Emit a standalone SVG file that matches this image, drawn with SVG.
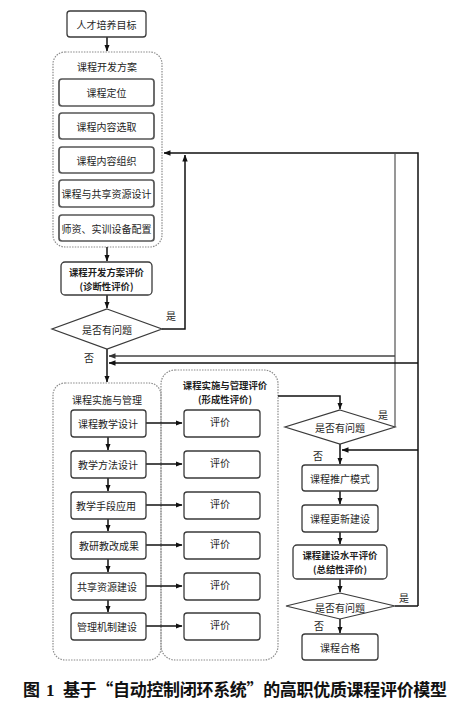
<svg xmlns="http://www.w3.org/2000/svg" width="450" height="705" viewBox="0 0 450 705">
<defs>
<marker id="ah" markerUnits="userSpaceOnUse" markerWidth="7" markerHeight="7" viewBox="0 0 7 7" refX="6.5" refY="3.5" orient="auto">
<path d="M0,0.8 L7,3.5 L0,6.2 Z" fill="#111"/>
</marker>
<marker id="ahg" markerUnits="userSpaceOnUse" markerWidth="7" markerHeight="7" viewBox="0 0 7 7" refX="6.5" refY="3.5" orient="auto">
<path d="M0,0.8 L7,3.5 L0,6.2 Z" fill="#333"/>
</marker>
</defs>
<style>
text{font-family:"Noto Sans CJK SC","Noto Sans",sans-serif;font-size:10px;fill:#1e1e1e;text-anchor:middle;dominant-baseline:central}
.b{font-weight:bold;font-size:9.4px}
.box{fill:#fff;stroke:#3a3a3a;stroke-width:1.3}
.ibox{fill:#fff;stroke:#555;stroke-width:1.7}
.cont{fill:none;stroke:#8a8a8a;stroke-width:1.2;stroke-dasharray:1.5 1.2}
.dia{fill:#fff;stroke:#3a3a3a;stroke-width:1.2}
.ln{fill:none;stroke:#111;stroke-width:1.5}
.lg{fill:none;stroke:#8c8c8c;stroke-width:1.8}
.ld{fill:none;stroke:#444;stroke-width:1.6}
.cap{font-size:17px;font-weight:bold;text-anchor:start;dominant-baseline:auto;fill:#111}
</style>
<rect width="450" height="705" fill="#fff"/>

<!-- containers -->
<g id="dev-plan">
<rect class="cont" x="53" y="52" width="109" height="195" rx="12"/>
<text x="107" y="66">课程开发方案</text>
</g>
<g id="impl-container">
<rect class="cont" x="53" y="383" width="108" height="277" rx="12"/>
<text x="107" y="399">课程实施与管理</text>
</g>
<g id="formative-container">
<rect class="cont" x="161" y="370" width="117" height="290" rx="14"/>
<text class="b" x="225" y="385">课程实施与管理评价</text>
<text class="b" x="225" y="399">(形成性评价)</text>
</g>

<!-- connectors -->
<g id="connectors">
<line class="ln" x1="107" y1="37" x2="107" y2="51" marker-end="url(#ah)"/>
<line class="ln" x1="107" y1="247" x2="107" y2="261" marker-end="url(#ah)"/>
<line class="ln" x1="107" y1="295" x2="107" y2="308" marker-end="url(#ah)"/>
<polyline class="ln" points="162,329 185,329 185,155" marker-end="url(#ah)"/>
<polyline class="ln" points="418,606 418,153 164,153" marker-end="url(#ah)"/>
<line class="lg" x1="395" y1="427" x2="395" y2="154"/>
<line class="ld" x1="395" y1="356" x2="109" y2="356" marker-end="url(#ahg)"/>
<line class="ln" x1="418" y1="363" x2="109" y2="363" marker-end="url(#ah)"/>
<line class="ln" x1="107" y1="349" x2="107" y2="382" marker-end="url(#ah)"/>
<line class="ln" x1="418" y1="450" x2="342" y2="450" marker-end="url(#ah)"/>
<line class="ln" x1="395" y1="606" x2="418" y2="606"/>
<!-- impl chain -->
<line class="ln" x1="108" y1="437" x2="108" y2="450" marker-end="url(#ah)"/>
<line class="ln" x1="108" y1="478" x2="108" y2="491" marker-end="url(#ah)"/>
<line class="ln" x1="108" y1="519" x2="108" y2="531" marker-end="url(#ah)"/>
<line class="ln" x1="108" y1="559" x2="108" y2="572" marker-end="url(#ah)"/>
<line class="ln" x1="108" y1="600" x2="108" y2="612" marker-end="url(#ah)"/>
<line class="ln" x1="146" y1="423" x2="182" y2="423" marker-end="url(#ah)"/>
<line class="ln" x1="146" y1="464" x2="182" y2="464" marker-end="url(#ah)"/>
<line class="ln" x1="146" y1="505" x2="182" y2="505" marker-end="url(#ah)"/>
<line class="ln" x1="146" y1="545" x2="182" y2="545" marker-end="url(#ah)"/>
<line class="ln" x1="146" y1="586" x2="182" y2="586" marker-end="url(#ah)"/>
<line class="ln" x1="146" y1="626" x2="182" y2="626" marker-end="url(#ah)"/>
<!-- right chain -->
<polyline class="ln" points="278,396 340,396 340,409" marker-end="url(#ah)"/>
<line class="ln" x1="340" y1="444" x2="340" y2="464" marker-end="url(#ah)"/>
<line class="ln" x1="340" y1="491" x2="340" y2="504" marker-end="url(#ah)"/>
<line class="ln" x1="340" y1="532" x2="340" y2="544" marker-end="url(#ah)"/>
<line class="ln" x1="340" y1="579" x2="340" y2="592" marker-end="url(#ah)"/>
<line class="ln" x1="340" y1="619" x2="340" y2="633" marker-end="url(#ah)"/>
<text x="171" y="315">是</text>
<text x="89" y="357">否</text>
<text x="383" y="414">是</text>
<text x="318" y="455">否</text>
<text x="404" y="597">是</text>
<text x="319" y="625">否</text>
</g>

<!-- nodes -->
<g id="goal"><rect class="box" x="67" y="11" width="79" height="26" rx="3"/><text x="106.5" y="24">人才培养目标</text></g>
<g id="n-position"><rect class="ibox" x="59" y="79" width="95" height="27" rx="3"/><text x="106.5" y="92.5">课程定位</text></g>
<g id="n-select"><rect class="ibox" x="59" y="113" width="95" height="26" rx="3"/><text x="106.5" y="126">课程内容选取</text></g>
<g id="n-organize"><rect class="ibox" x="59" y="147" width="95" height="26" rx="3"/><text x="106.5" y="160">课程内容组织</text></g>
<g id="n-design"><rect class="ibox" x="59" y="180" width="95" height="27" rx="3"/><text x="106.5" y="193.5">课程与共享资源设计</text></g>
<g id="n-staff"><rect class="ibox" x="59" y="215" width="95" height="26" rx="3"/><text x="106.5" y="228">师资、实训设备配置</text></g>
<g id="n-diag-eval"><rect class="box" x="61" y="262" width="91" height="33" rx="4"/><text class="b" x="106.5" y="271.5">课程开发方案评价</text><text class="b" x="106.5" y="285.5">(诊断性评价)</text></g>
<g id="d1"><polygon class="dia" points="107,309 162,329 107,349 52,329"/><text x="107" y="329">是否有问题</text></g>

<g id="i1"><rect class="box" x="71" y="410" width="75" height="27" rx="3"/><text x="108" y="423">课程教学设计</text></g>
<g id="i2"><rect class="box" x="71" y="451" width="75" height="27" rx="3"/><text x="108" y="464">教学方法设计</text></g>
<g id="i3"><rect class="box" x="71" y="492" width="75" height="27" rx="3"/><text x="106" y="505">教学手段应用</text></g>
<g id="i4"><rect class="box" x="71" y="532" width="75" height="27" rx="3"/><text x="109" y="545">教研教改成果</text></g>
<g id="i5"><rect class="box" x="71" y="573" width="75" height="27" rx="3"/><text x="107" y="586">共享资源建设</text></g>
<g id="i6"><rect class="box" x="71" y="613" width="75" height="27" rx="3"/><text x="107" y="626">管理机制建设</text></g>

<g id="e1"><rect class="box" x="184" y="410" width="76" height="27" rx="3"/><text x="220" y="421">评价</text></g>
<g id="e2"><rect class="box" x="184" y="451" width="76" height="27" rx="3"/><text x="220" y="462">评价</text></g>
<g id="e3"><rect class="box" x="184" y="492" width="76" height="27" rx="3"/><text x="220" y="503">评价</text></g>
<g id="e4"><rect class="box" x="184" y="532" width="76" height="27" rx="3"/><text x="220" y="543">评价</text></g>
<g id="e5"><rect class="box" x="184" y="573" width="76" height="27" rx="3"/><text x="220" y="584">评价</text></g>
<g id="e6"><rect class="box" x="184" y="613" width="76" height="27" rx="3"/><text x="220" y="624">评价</text></g>

<g id="d2"><polygon class="dia" points="340,410 395,427 340,444 285,427"/><text x="340" y="427">是否有问题</text></g>
<g id="r1"><rect class="box" x="302" y="465" width="76" height="26" rx="3"/><text x="340" y="478">课程推广模式</text></g>
<g id="r2"><rect class="box" x="302" y="505" width="76" height="27" rx="3"/><text x="340" y="518">课程更新建设</text></g>
<g id="r3"><rect class="box" x="293" y="545" width="94" height="34" rx="4"/><text class="b" x="340" y="555">课程建设水平评价</text><text class="b" x="340" y="569">(总结性评价)</text></g>
<g id="d3"><polygon class="dia" points="340,593 395,606 340,619 286,606"/><text x="340" y="607">是否有问题</text></g>
<g id="r4"><rect class="box" x="302" y="634" width="76" height="26" rx="3"/><text x="340" y="647">课程合格</text></g>

<text class="cap" x="23" y="696">图<tspan font-family="Liberation Serif,serif" dx="6">1</tspan></text>
<text class="cap" x="63" y="696" textLength="384">基于“自动控制闭环系统”的高职优质课程评价模型</text>
</svg>
